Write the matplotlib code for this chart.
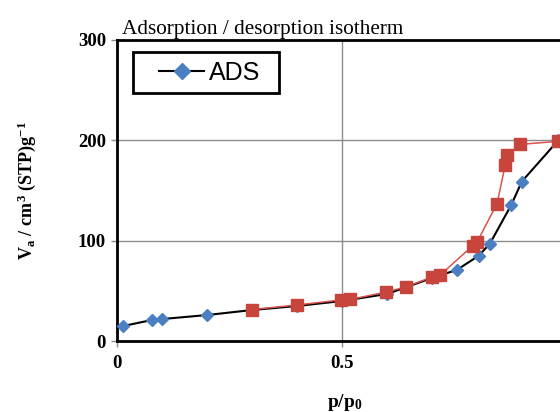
import matplotlib
matplotlib.use("Agg")
import matplotlib.pyplot as plt
from matplotlib.path import Path
from matplotlib.ticker import FuncFormatter

plt.rcParams['font.family'] = ['Liberation Serif', 'DejaVu Serif']
plt.rcParams['mathtext.fontset'] = 'custom'
plt.rcParams['mathtext.rm'] = 'Liberation Serif:bold'
plt.rcParams['mathtext.bf'] = 'Liberation Serif:bold'
plt.rcParams['mathtext.it'] = 'Liberation Serif:bold'

# adsorption branch
ads_p = [0.013, 0.077, 0.10, 0.20, 0.30, 0.40, 0.50, 0.60, 0.70, 0.755, 0.803, 0.828, 0.876, 0.899, 0.98]
ads_v = [15, 21, 22, 26, 31, 35, 40, 47, 63, 71, 85, 97, 136, 159, 200]

# desorption branch
des_p = [0.98, 0.895, 0.866, 0.862, 0.844, 0.80, 0.79, 0.718, 0.70, 0.642, 0.598, 0.518, 0.497, 0.40, 0.30]
des_v = [199, 196, 185, 175, 137, 99, 95, 66, 64, 54, 49, 41.5, 41, 36, 31.5]


def wide_box(x0, y0, width, height, mutation_size):
    # legend frame with more room left/right than top/bottom
    l = x0 - 0.7 * mutation_size
    r = x0 + width + 0.44 * mutation_size
    b, t = y0, y0 + height
    return Path([(l, b), (r, b), (r, t), (l, t), (l, b)], closed=True)


fig = plt.figure(figsize=(5.6, 4.12), dpi=100)
ax = fig.add_axes([0.209, 0.172, 0.804, 0.731])

ax.plot(ads_p, ads_v, color='black', lw=1.5, marker='D', ms=6.5,
        mfc='#4a7fc1', mec='#4a7fc1', label='ADS', zorder=3)
ax.plot(des_p, des_v, color='#d9534f', lw=1.1, marker='s', ms=9,
        mfc='#c8453d', mec='#c8453d', zorder=4)

ax.set_xlim(0, 1)
ax.set_ylim(0, 300)
ax.set_xticks([0, 0.5, 1])
ax.set_yticks([0, 100, 200, 300])
ax.xaxis.set_major_formatter(FuncFormatter(lambda v, p: '0' if v == 0 else ('' if v == 1 else f'{v:g}')))
ax.grid(True, color='#8c8c8c', lw=1)
ax.set_axisbelow(True)

for s in ax.spines.values():
    s.set_linewidth(2)
    s.set_color('black')

ax.tick_params(axis='y', length=4, width=1, color='#8c8c8c', pad=4)
ax.tick_params(axis='x', length=4, width=1, color='#8c8c8c', pad=6)
for lbl in ax.get_xticklabels() + ax.get_yticklabels():
    lbl.set_fontweight('bold')
    lbl.set_fontsize(13.5)

ax.set_title('Adsorption / desorption isotherm', loc='left', fontsize=15.3, pad=4, x=0.01)
ax.set_xlabel(r'$\mathbf{p/p_0}$', fontsize=14)
ax.xaxis.set_label_coords(0.505, -0.17)
ylab = ax.set_ylabel(r'$\mathbf{V_a\ /\ cm^3\ (STP)g^{-1}}$', fontsize=13)
ylab.set_va('center')
ax.yaxis.set_label_coords(-0.2, 0.5)

leg = ax.legend(loc='upper left', bbox_to_anchor=(0.0744, 0.96), borderaxespad=0,
                fancybox=False, markerscale=1.3,
                prop={'family': ['Liberation Sans Narrow', 'Liberation Sans'], 'size': 18},
                handlelength=1.8, borderpad=0.34, handletextpad=0.18)
leg.get_frame().set_boxstyle(wide_box)
leg.get_frame().set_edgecolor('black')
leg.get_frame().set_linewidth(2)
leg.get_frame().set_alpha(1)

fig.savefig('out.png', dpi=100)
